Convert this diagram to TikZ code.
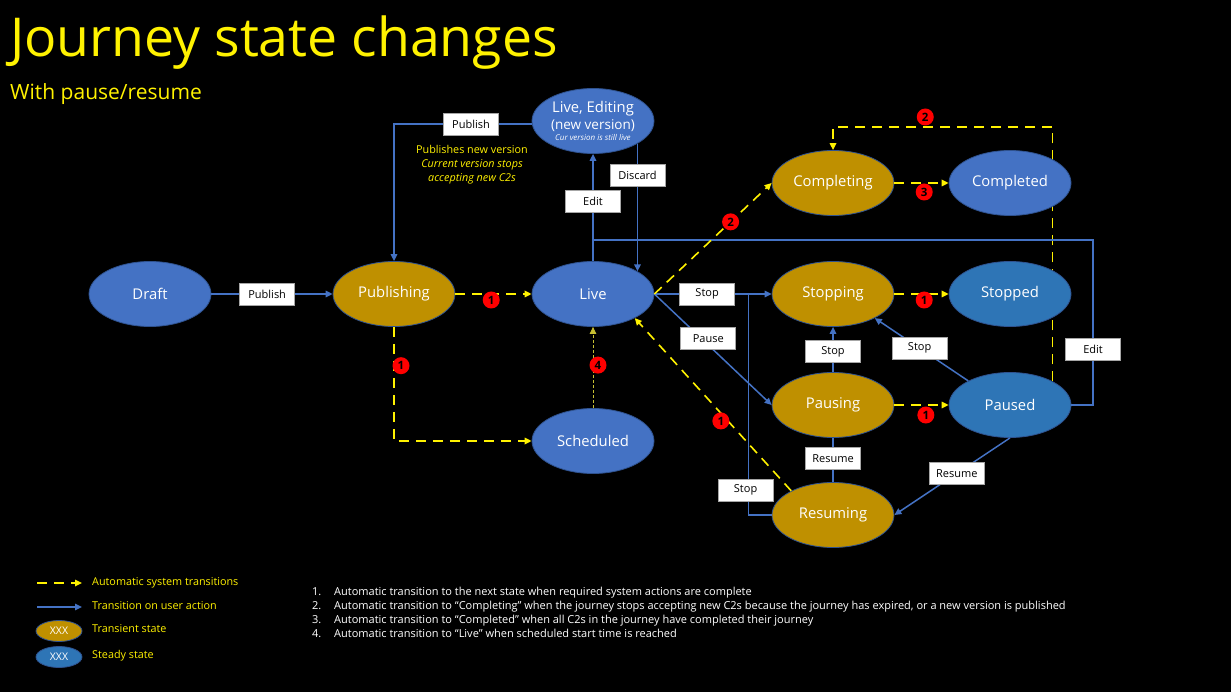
\documentclass[tikz,border=0pt]{standalone}
\usepackage{fontspec}
\setmainfont{Open Sans}
\usetikzlibrary{arrows.meta,shapes.geometric,calc}
\pgfdeclarelayer{bg}
\pgfsetlayers{bg,main}

\definecolor{stblue}{HTML}{4472C4}
\definecolor{stdark}{HTML}{2E75B6}
\definecolor{stgold}{HTML}{BF9000}
\definecolor{stedge}{HTML}{2F528F}

\begin{document}
\begin{tikzpicture}[x=1pt,y=-1pt,line width=1.5pt,>={Triangle[length=7pt,width=6.5pt]},
  jstate/.style={ellipse,draw=stedge,line width=0.8pt,minimum width=122pt,minimum height=65pt,inner sep=0pt,text=white,font=\fontsize{14.8}{17}\selectfont},
  blu/.style={jstate,fill=stblue},
  dblu/.style={jstate,fill=stdark},
  gold/.style={jstate,fill=stgold},
  usr/.style={stblue,line width=1.5pt},
  sys/.style={yellow,line width=1.6pt,dash pattern=on 10pt off 7pt},
  lbl/.style={fill=white,draw=gray!70,line width=0.6pt,text=black,minimum width=55pt,minimum height=22pt,inner sep=0pt,font=\fontsize{11}{12}\selectfont},
  badge/.style={circle,fill=red,inner sep=0pt,minimum size=17pt,text=black,font=\fontsize{11.5}{11}\selectfont\bfseries},
  keytxt/.style={anchor=west,text=yellow,inner sep=0pt,font=\fontsize{10.8}{12}\selectfont},
  keyell/.style={ellipse,draw=stedge,line width=0.8pt,minimum width=46pt,minimum height=21pt,inner sep=0pt,text=white,font=\fontsize{10.5}{12}\selectfont}]
  \useasboundingbox (0,0) rectangle (1231,692);
  \begin{pgfonlayer}{bg}
    \fill[black] (0,0) rectangle (1231,692);
  \end{pgfonlayer}

  % titulo
  \node[anchor=base west,inner sep=0pt,text=yellow,font=\fontsize{53.6}{60}\selectfont] (title) at (10,57) {Journey state changes};
  \node[anchor=base west,inner sep=0pt,text=yellow,font=\fontsize{21}{24}\selectfont] (subtitle) at (10,100) {With pause/resume};

  % estados
  \node[blu] (draft) at (150,294) {Draft};
  \node[gold] (publishing) at (394,294) {Publishing};
  \node[blu] (live) at (593,294) {Live};
  \node[blu,align=center] (ledit) at (593,121) {Live, Editing\\[0pt]{\fontsize{13.5}{14}\selectfont(new version)}\\[-6pt]{\fontsize{8}{9}\selectfont\itshape Cur version is still live}};
  \node[blu] (sched) at (593,441) {Scheduled};
  \node[gold] (completing) at (833,183) {Completing};
  \node[blu] (completed) at (1010,183) {Completed};
  \node[gold] (stopping) at (833,294) {Stopping};
  \node[dblu] (stopped) at (1010,294) {Stopped};
  \node[gold] (pausing) at (833,405) {Pausing};
  \node[dblu] (paused) at (1010,405) {Paused};
  \node[gold] (resuming) at (833,515) {Resuming};
  \coordinate (ecorner) at (1093,240);
  \coordinate (ejoin) at (593,240);
  \coordinate (ctop) at (833,127);

  % transiciones del usuario
  \draw[usr,->] (draft) -- (publishing) node[lbl,pos=.46] {Publish};
  \draw[usr,->] ([yshift=-3pt]ledit.west) -| (publishing.north) node[lbl,pos=.22] {Publish};
  \draw[usr,->] (live.north) -- (ledit.south) node[lbl,pos=.56] {Edit};
  \draw[usr,->] (ledit.-27) -- (live.27) node[lbl,pos=.25] {Discard};
  \draw[usr] (paused.east) -| (ecorner) node[lbl,pos=.67] {Edit} -- (ejoin);
  \draw[usr,->] (live.east) -- (stopping.west) node[lbl,pos=.45] {Stop};
  \draw[usr,->] (live.east) -- (pausing.west) node[lbl,pos=.40,xshift=7pt] {Pause};
  \draw[usr,->] (pausing) -- (stopping) node[lbl,pos=.45] {Stop};
  \draw[usr,->] (paused.150) -- (stopping.-30) node[lbl,pos=.52] {Stop};
  \draw[usr,->] (paused.south) -- (resuming.east) node[lbl,pos=.46] {Resume};
  \draw[usr] (pausing) -- (resuming) node[lbl,pos=.46] {Resume};
  \draw[usr] (resuming.west) -| ([xshift=-23pt]stopping.west) node[lbl,pos=.556,xshift=-3pt] {Stop};

  % transiciones automaticas
  \draw[sys,->] (publishing) -- (live) node[badge,pos=.47,yshift=-6pt] {1};
  \draw[sys,->] (publishing.south) |- (sched.west) node[badge,pos=.17,xshift=7pt] {1};
  \draw[->,yellow!75!black,line width=0.8pt,dash pattern=on 3pt off 2pt] (sched) -- (live) node[badge,pos=.53,xshift=5pt] {4};
  \draw[sys,->] (live.east) -- (completing.west) node[badge,pos=.65] {2};
  \draw[sys,->] (completing) -- (completed) node[badge,pos=.55,yshift=-9pt] {3};
  \draw[sys,->] (stopping) -- (stopped) node[badge,pos=.55,yshift=-6pt] {1};
  \draw[sys,->] (pausing) -- (paused) node[badge,pos=.58,yshift=-10pt] {1};
  \draw[sys,->] (resuming.150) -- (live.-30) node[badge,pos=.405,xshift=-7pt] {1};
  \begin{pgfonlayer}{bg}
    \draw[sys,->] (paused.29) |- (ctop) node[badge,pos=.79,yshift=10pt] {2} -- (completing.north);
  \end{pgfonlayer}

  % nota sobre la nueva version
  \node[align=center,text=yellow,font=\fontsize{10.8}{14}\selectfont] (pubnote) at (472,165) {Publishes new version\\\itshape Current version stops\\\itshape accepting new C2s};

  % leyenda
  \coordinate (k1a) at (37,583); \coordinate (k1b) at (82,583);
  \coordinate (k2a) at (37,607); \coordinate (k2b) at (82,607);
  \draw[sys,->] (k1a) -- (k1b);
  \draw[usr,->] (k2a) -- (k2b);
  \node[keyell,fill=stgold] (ktran) at (59,631) {XXX};
  \node[keyell,fill=stdark] (kstdy) at (59,657) {XXX};
  \node[keytxt] (k1) at (92,583) {Automatic system transitions};
  \node[keytxt] (k2) at (92,606) {Transition on user action};
  \node[keytxt] (k3) at (92,629) {Transient state};
  \node[keytxt] (k4) at (92,656) {Steady state};

  % notas
  \foreach \i/\t in {1/{Automatic transition to the next state when required system actions are complete},
    2/{Automatic transition to “Completing” when the journey stops accepting new C2s because the journey has expired, or a new version is published},
    3/{Automatic transition to “Completed” when all C2s in the journey have completed their journey},
    4/{Automatic transition to “Live” when scheduled start time is reached}}{
    \node[anchor=base west,inner sep=0pt,text=white,font=\fontsize{11}{12}\selectfont] (num\i) at (312,{581+14*\i}) {\i.};
    \node[anchor=base west,inner sep=0pt,text=white,font=\fontsize{11}{12}\selectfont] (note\i) at (334,{581+14*\i}) {\t};
  }
\end{tikzpicture}
\end{document}
